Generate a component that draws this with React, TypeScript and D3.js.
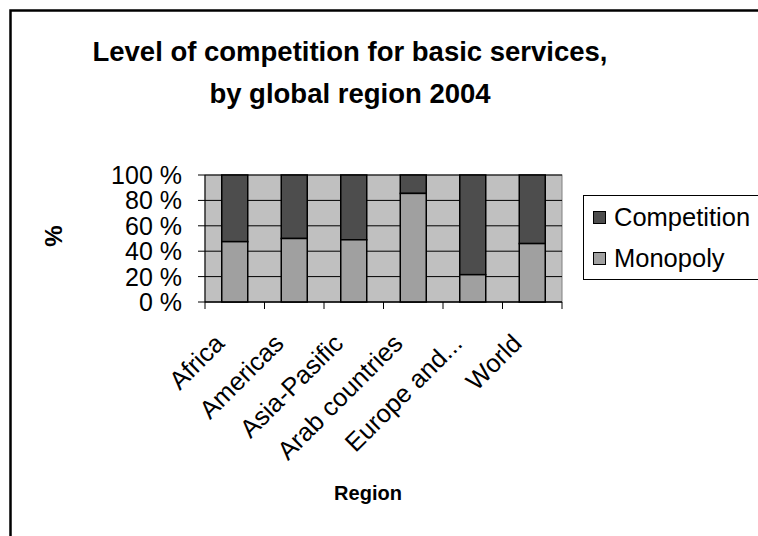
import React from "react";
import * as d3 from "d3";

const categories = ["Africa", "Americas", "Asia-Pasific", "Arab countries", "Europe and...", "World"];
const monopoly = [0.475, 0.5, 0.49, 0.855, 0.215, 0.46];
const competition = monopoly.map((m) => 1 - m);
const yTicks = [0, 0.2, 0.4, 0.6, 0.8, 1];
const yTickLabels = ["0 %", "20 %", "40 %", "60 %", "80 %", "100 %"];
const seriesNames = ["Competition", "Monopoly"];
const seriesColors = ["#4d4d4d", "#a0a0a0"];

const FONT = "'Liberation Sans', Arial, sans-serif";

export default function App() {
  const left = 205, right = 562, top = 175, bottom = 302;
  const x = d3.scaleBand<string>().domain(categories).range([left, right]).padding(0);
  const y = d3.scaleLinear().domain([0, 1]).range([bottom, top]);
  const barW = 26;
  const bw = x.bandwidth();
  const tickXs = categories.map((c) => x(c) as number).concat([right]);

  return (
    <svg
      width={758}
      height={536}
      style={{ position: "absolute", left: 0, top: 0, display: "block" }}
      fontFamily={FONT}
    >
      <rect x={0} y={0} width={758} height={536} fill="#fff" />
      <rect x={10.5} y={10.5} width={900} height={700} fill="#fff" stroke="#000" strokeWidth={2.5} />

      {/* title */}
      <text x={350} y={61} textAnchor="middle" fontSize={27.5} fontWeight="bold">
        Level of competition for basic services,
      </text>
      <text x={350} y={103} textAnchor="middle" fontSize={27.5} fontWeight="bold">
        by global region 2004
      </text>

      {/* plot area */}
      <rect x={left} y={top} width={right - left} height={bottom - top} fill="#c0c0c0" stroke="#808080" strokeWidth={1} />
      {yTicks.map((t, i) => (
        <g key={i}>
          <line x1={left - 7} x2={right} y1={y(t)} y2={y(t)} stroke="#000" strokeWidth={1} />
          <text x={182} y={y(t) + 9} textAnchor="end" fontSize={25}>
            {yTickLabels[i]}
          </text>
        </g>
      ))}
      {/* bars */}
      {categories.map((c, i) => {
        const cx = (x(c) as number) + bw / 2;
        return (
          <g key={c}>
            <rect
              x={cx - barW / 2}
              y={y(1)}
              width={barW}
              height={y(monopoly[i]) - y(1)}
              fill={seriesColors[0]}
              stroke="#000"
              strokeWidth={1.5}
            />
            <rect
              x={cx - barW / 2}
              y={y(monopoly[i])}
              width={barW}
              height={y(0) - y(monopoly[i])}
              fill={seriesColors[1]}
              stroke="#000"
              strokeWidth={1.5}
            />
          </g>
        );
      })}
      <line x1={left} x2={left} y1={top} y2={bottom} stroke="#000" strokeWidth={1} />
      <line x1={left} x2={right} y1={bottom} y2={bottom} stroke="#000" strokeWidth={1} />
      {tickXs.map((tx, i) => (
        <line key={i} x1={tx} x2={tx} y1={bottom} y2={bottom + 7} stroke="#000" strokeWidth={1} />
      ))}
      {categories.map((c) => {
        const cx = (x(c) as number) + bw / 2;
        return (
          <text
            key={c}
            transform={`translate(${cx - 9},${345}) rotate(-45)`}
            textAnchor="end"
            fontSize={25.5}
          >
            {c}
          </text>
        );
      })}

      {/* axis titles */}
      <text transform="translate(62,236) rotate(-90)" textAnchor="middle" fontSize={24} fontWeight="bold">
        %
      </text>
      <text x={368} y={500} textAnchor="middle" fontSize={20} fontWeight="bold">
        Region
      </text>

      {/* legend */}
      <rect x={583.5} y={195.5} width={200} height={84} fill="#fff" stroke="#000" strokeWidth={1} />
      {seriesNames.map((s, i) => {
        const cy = 217 + i * 41;
        return (
          <g key={s}>
            <rect x={593.5} y={cy - 5.5} width={12} height={12} fill={seriesColors[i]} stroke="#000" strokeWidth={1} />
            <text x={614} y={cy + 9} fontSize={25.5}>
              {s}
            </text>
          </g>
        );
      })}
    </svg>
  );
}
